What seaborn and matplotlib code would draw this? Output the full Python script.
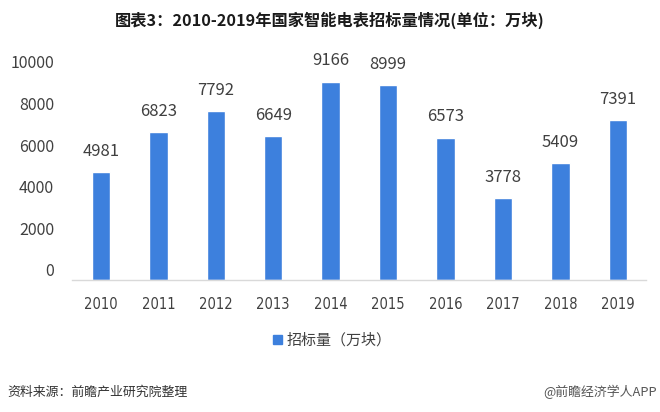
import matplotlib
matplotlib.use("Agg")
import matplotlib.pyplot as plt
from matplotlib.transforms import ScaledTranslation
import seaborn as sns
import pandas as pd

years = ["2010", "2011", "2012", "2013", "2014", "2015", "2016", "2017", "2018", "2019"]
values = [4981, 6823, 7792, 6649, 9166, 8999, 6573, 3778, 5409, 7391]
yticks = [0, 2000, 4000, 6000, 8000, 10000]
series_name = "招标量（万块）"

sns.set_theme(style="white")
plt.rcParams['font.family'] = ['Noto Sans CJK SC', 'DejaVu Sans']

df = pd.DataFrame({"year": years, "value": values, "series": series_name})

fig = plt.figure(figsize=(6.6, 4.12), dpi=100)
ax = fig.add_axes([0.1095, 0.3204, 0.870, 0.5255])
color = "#3D80DD"
sns.barplot(data=df, x="year", y="value", hue="series", palette=[color],
            saturation=1, width=0.32, ax=ax, legend=False)

ax.set_xlim(-0.5, len(years) - 0.5)
ax.set_ylim(0, 10000)
ax.set_yticks(yticks)
ax.set_yticklabels([str(t) for t in yticks], fontsize=11.5, color="#404040")
ax.tick_params(axis="x", labelsize=10.5, colors="#404040", length=0, pad=12)
ax.tick_params(axis="y", length=0, pad=13)
for lab in ax.get_xticklabels():
    lab.set_fontfamily(['DejaVu Sans'])
    lab.set_fontstretch('condensed')
for t, lab in zip(yticks, ax.get_yticklabels()):
    shift_px = 10 - 8.2 * t / 10000
    lab.set_transform(lab.get_transform() + ScaledTranslation(0, shift_px / 100, fig.dpi_scale_trans))
ax.set_xlabel("")
ax.set_ylabel("")
for s in ["top", "right", "left"]:
    ax.spines[s].set_visible(False)
ax.spines["bottom"].set_color("#d9d9d9")
ax.spines["bottom"].set_linewidth(1)

for i, v in enumerate(values):
    ax.annotate(str(v), (i, v), xytext=(0, 15), textcoords="offset points",
                ha="center", va="center", fontsize=12, color="#404040")

fig.text(0.5, 0.9515, "图表3：2010-2019年国家智能电表招标量情况(单位：万块)", ha="center", va="center",
         fontsize=11.7, fontweight="bold", color="#1a1a1a")

# legend
fig.patches.append(plt.Rectangle((273 / 660, 1 - 344 / 412), 9 / 660, 9 / 412,
                                 transform=fig.transFigure, color=color, figure=fig))
fig.text(287 / 660, 1 - 340 / 412, series_name, ha="left", va="center", fontsize=10.8, color="#404040")

fig.text(7 / 660, 1 - 392 / 412, "资料来源：前瞻产业研究院整理", ha="left", va="center", fontsize=9.3, color="#333333")
fig.text(657 / 660, 1 - 392 / 412, "@前瞻经济学人APP", ha="right", va="center", fontsize=9.3, color="#555555")

fig.savefig("out.png", dpi=100)
